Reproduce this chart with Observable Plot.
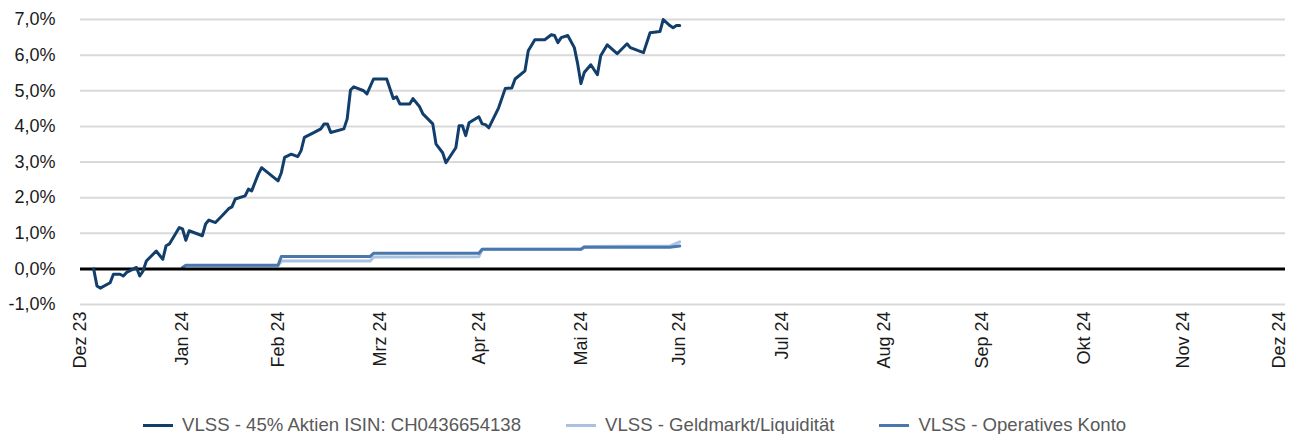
<!DOCTYPE html>
<html>
<head>
<meta charset="utf-8">
<script src="https://cdn.jsdelivr.net/npm/d3@7"></script>
<script src="https://cdn.jsdelivr.net/npm/@observablehq/plot@0.6"></script>
<style>
  html, body { margin: 0; padding: 0; background: #fff; }
  #legend { display: flex; align-items: center; margin-left: 143px; margin-top: 15px; line-height: 20px;
            font-family: "Liberation Sans", Arial, sans-serif; font-size: 18.6px; color: #595959; white-space: nowrap; }
  .item { display: flex; align-items: center; margin-right: 45px; }
  .sw { display: inline-block; width: 30px; height: 3px; margin-right: 9px; }
</style>
</head>
<body>
<div id="chart"></div>
<div id="legend"></div>
<script>
// ---- data ----
const seriesNames = ["VLSS - 45% Aktien ISIN: CH0436654138", "VLSS - Geldmarkt/Liquidität", "VLSS - Operatives Konto"];
const seriesColors = ["#123e6b", "#a9c2e2", "#4a78ae"];

const aktienDates = ["2024-01-04","2024-01-05","2024-01-06","2024-01-09","2024-01-10","2024-01-12","2024-01-13","2024-01-14","2024-01-17","2024-01-18","2024-01-19","2024-01-20","2024-01-23","2024-01-25","2024-01-26","2024-01-27","2024-01-30","2024-01-31","2024-02-01","2024-02-02","2024-02-06","2024-02-07","2024-02-08","2024-02-10","2024-02-12","2024-02-14","2024-02-15","2024-02-16","2024-02-19","2024-02-20","2024-02-21","2024-02-23","2024-02-24","2024-02-29","2024-03-01","2024-03-02","2024-03-04","2024-03-06","2024-03-07","2024-03-08","2024-03-11","2024-03-13","2024-03-14","2024-03-15","2024-03-16","2024-03-20","2024-03-21","2024-03-22","2024-03-23","2024-03-26","2024-03-27","2024-03-29","2024-04-02","2024-04-04","2024-04-05","2024-04-06","2024-04-09","2024-04-10","2024-04-12","2024-04-13","2024-04-16","2024-04-17","2024-04-19","2024-04-20","2024-04-23","2024-04-24","2024-04-25","2024-04-26","2024-04-27","2024-04-30","2024-05-01","2024-05-02","2024-05-03","2024-05-06","2024-05-08","2024-05-10","2024-05-11","2024-05-14","2024-05-15","2024-05-17","2024-05-20","2024-05-22","2024-05-23","2024-05-24","2024-05-25","2024-05-27","2024-05-29","2024-05-30","2024-05-31","2024-06-01","2024-06-03","2024-06-05","2024-06-06","2024-06-08","2024-06-11","2024-06-14","2024-06-15","2024-06-19","2024-06-21","2024-06-24","2024-06-25","2024-06-27","2024-06-28","2024-06-29","2024-06-30"];
const aktienValues = [0.00,-0.48,-0.54,-0.39,-0.15,-0.15,-0.20,-0.10,0.04,-0.20,-0.06,0.22,0.50,0.27,0.65,0.70,1.16,1.12,0.80,1.07,0.93,1.26,1.37,1.30,1.49,1.69,1.74,1.96,2.05,2.24,2.19,2.66,2.84,2.47,2.70,3.13,3.22,3.15,3.32,3.69,3.83,3.93,4.07,4.07,3.83,3.93,4.21,5.02,5.11,5.00,4.91,5.33,5.33,4.78,4.83,4.63,4.63,4.78,4.55,4.35,4.07,3.50,3.26,2.98,3.40,4.02,4.02,3.74,4.10,4.27,4.07,4.05,3.96,4.52,5.06,5.08,5.33,5.56,6.12,6.43,6.43,6.57,6.55,6.35,6.49,6.55,6.21,5.76,5.20,5.51,5.73,5.45,5.98,6.29,6.04,6.32,6.21,6.07,6.63,6.66,7.00,6.83,6.77,6.83,6.83];

const geldDates = ["2024-01-31","2024-02-01","2024-02-29","2024-03-01","2024-03-28","2024-03-29","2024-04-30","2024-05-01","2024-05-31","2024-06-01","2024-06-27","2024-06-30"];
const geldValues = [0.04,0.09,0.09,0.22,0.22,0.33,0.34,0.55,0.55,0.63,0.64,0.76];

const kontoDates = ["2024-01-31","2024-02-01","2024-02-29","2024-03-01","2024-03-28","2024-03-29","2024-04-30","2024-05-01","2024-05-31","2024-06-01","2024-06-27","2024-06-30"];
const kontoValues = [0.04,0.10,0.10,0.35,0.35,0.44,0.44,0.55,0.55,0.61,0.61,0.64];

const yTicks = [-1, 0, 1, 2, 3, 4, 5, 6, 7];
const xTickDates = ["2023-12-31","2024-01-31","2024-02-29","2024-03-31","2024-04-30","2024-05-31","2024-06-30","2024-07-31","2024-08-31","2024-09-30","2024-10-31","2024-11-30","2024-12-31"];
const xTickLabels = ["Dez 23","Jan 24","Feb 24","Mrz 24","Apr 24","Mai 24","Jun 24","Jul 24","Aug 24","Sep 24","Okt 24","Nov 24","Dez 24"];

// ---- build tables ----
const toRows = (ds, vs) => ds.map((d, i) => ({date: new Date(d), value: vs[i]}));
const aktien = toRows(aktienDates, aktienValues);
const geld = toRows(geldDates, geldValues);
const konto = toRows(kontoDates, kontoValues);
const tickDates = xTickDates.map(d => new Date(d));
const labelMap = new Map(tickDates.map((d, i) => [+d, xTickLabels[i]]));

const font = "Liberation Sans, Arial, sans-serif";
const xAxisOpts = {tickSize: 0, tickPadding: 7, tickRotate: -90, fontSize: 18, label: null,
                   tickFormat: d => labelMap.get(+d)};
const chart = Plot.plot({
  width: 1290,
  height: 400,
  marginLeft: 80,
  marginRight: 5,
  marginTop: 19,
  marginBottom: 96,
  style: {fontFamily: font, fontSize: "18px", color: "#1a1a1a", background: "#fff"},
  x: {type: "utc", domain: [new Date("2023-12-31"), new Date("2024-12-31")]},
  y: {domain: [-1, 7]},
  marks: [
    Plot.ruleY(yTicks, {stroke: "#d9d9d9", strokeWidth: 2}),
    Plot.axisY({ticks: yTicks, tickSize: 0, tickPadding: 25, fontSize: 18, label: null,
                tickFormat: d => d.toFixed(1).replace(".", ",") + "%"}),
    Plot.axisX({...xAxisOpts, ticks: tickDates.slice(0, -1)}),
    Plot.axisX({...xAxisOpts, ticks: tickDates.slice(-1), dx: -6}),
    Plot.line(geld, {x: "date", y: "value", stroke: seriesColors[1], strokeWidth: 3}),
    Plot.line(konto, {x: "date", y: "value", stroke: seriesColors[2], strokeWidth: 3}),
    Plot.ruleY([0], {stroke: "#000", strokeWidth: 3}),
    Plot.line(aktien, {x: "date", y: "value", stroke: seriesColors[0], strokeWidth: 3, strokeLinejoin: "round"})
  ]
});
document.getElementById("chart").appendChild(chart);

const legend = document.getElementById("legend");
seriesNames.forEach((name, i) => {
  const item = document.createElement("div");
  item.className = "item";
  const sw = document.createElement("span");
  sw.className = "sw";
  sw.style.background = seriesColors[i];
  const t = document.createElement("span");
  t.textContent = name;
  item.appendChild(sw);
  item.appendChild(t);
  legend.appendChild(item);
});
</script>
</body>
</html>
